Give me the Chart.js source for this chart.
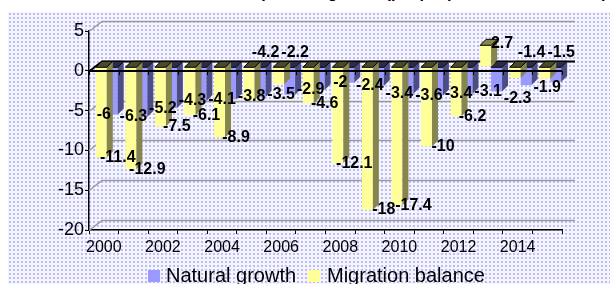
<!DOCTYPE html>
<html>
<head>
<meta charset="utf-8">
<script src="https://cdn.jsdelivr.net/npm/chart.js@4.4.1/dist/chart.umd.min.js"></script>
<style>
html, body { margin: 0; padding: 0; background: #fff; }
#wrap { position: relative; width: 610px; height: 284px; overflow: hidden; font-family: Arial, "Liberation Sans", sans-serif; }
#pattern { position: absolute; left: 8px; top: 12px; right: 0; bottom: 0;
  background-color: #f5f5ff;
  background-image: radial-gradient(circle, #bcbcf2 0.9px, transparent 1.4px);
  background-size: 4px 4px; }
#title { position: absolute; top: -15px; right: 3px; font-weight: bold; font-size: 16px; line-height: 16px; white-space: nowrap; }
canvas { position: absolute; left: 0; top: 0; }
.lg-box { position: absolute; top: 270px; width: 12px; height: 12px; }
.lg-txt { position: absolute; top: 265px; font-size: 20px; line-height: 20px; white-space: nowrap; color: #000; }
</style>
</head>
<body>
<div id="wrap">
  <div id="pattern"></div>
  <div id="title">Population growth (people per 1000 inhabitants)</div>
  <canvas id="chart" width="610" height="284"></canvas>
  <span class="lg-box" style="left:148px;background:#9999ff"></span>
  <span class="lg-txt" style="left:166px">Natural growth</span>
  <span class="lg-box" style="left:308px;background:#ffff99"></span>
  <span class="lg-txt" style="left:327px">Migration balance</span>
</div>
<script>
// Chart data
const years = ['2000', '2001', '2002', '2003', '2004', '2005', '2006', '2007',
               '2008', '2009', '2010', '2011', '2012', '2013', '2014', '2015'];
const naturalGrowth = [-6, -6.3, -5.2, -4.3, -4.1, -3.8, -3.5, -2.9,
                       -2, -2.4, -3.4, -3.6, -3.4, -3.1, -2.3, -1.9];
const migrationBalance = [-11.4, -12.9, -7.5, -6.1, -8.9, -4.2, -2.2, -4.6,
                          -12.1, -18, -17.4, -10, -6.2, 2.7, -1.4, -1.5];
const yTicks = [-20, -15, -10, -5, 0, 5];

// 3D look: depth of the back wall and of the bars
const WALL_DX = 13, WALL_DY = 10;
const BAR_DX = 6, BAR_DY = 6;
const SHIFT_X = 3, SHIFT_Y = -4;

const sideColors = ['#4d4d85', '#85854d'];
const topColors = ['#2a2a4a', '#4a4a28'];

// Excel moved a few labels out of the way
const migLabelsUp = [5, 6, 14, 15];
const natLabelsDown = { 14: 13, 15: 6 };

const walls = {
  id: 'walls',
  beforeDatasetsDraw(chart) {
    const { ctx, chartArea: a, scales: { y } } = chart;
    ctx.save();
    yTicks.forEach(v => {
      const py = Math.round(y.getPixelForValue(v)) + 0.5;
      ctx.strokeStyle = v === 0 ? '#000' : '#9a9a9a';
      ctx.lineWidth = v === 0 ? 2 : 1.5;
      ctx.beginPath();
      ctx.moveTo(a.left, py);
      ctx.lineTo(a.left + WALL_DX, py - WALL_DY);
      ctx.lineTo(a.right + WALL_DX, py - WALL_DY);
      ctx.stroke();
    });
    // bars sit half way into the depth
    ctx.translate(SHIFT_X, SHIFT_Y);
  },
  afterDatasetDraw(chart, args) {
    const ctx = chart.ctx;
    const meta = args.meta;
    const i = args.index;
    meta.data.forEach(bar => {
      const p = bar.getProps(['x', 'y', 'base', 'width'], true);
      const l = p.x - p.width / 2, r = p.x + p.width / 2;
      const top = Math.min(p.y, p.base), bot = Math.max(p.y, p.base);
      // side face
      ctx.fillStyle = sideColors[i];
      ctx.beginPath();
      ctx.moveTo(r, top);
      ctx.lineTo(r + BAR_DX, top - BAR_DY);
      ctx.lineTo(r + BAR_DX, bot - BAR_DY);
      ctx.lineTo(r, bot);
      ctx.closePath();
      ctx.fill();
      // top face
      ctx.fillStyle = p.y < p.base ? sideColors[i] : topColors[i];
      ctx.beginPath();
      ctx.moveTo(l, top);
      ctx.lineTo(l + BAR_DX, top - BAR_DY);
      ctx.lineTo(r + BAR_DX, top - BAR_DY);
      ctx.lineTo(r, top);
      ctx.closePath();
      ctx.fill();
      ctx.strokeStyle = '#000';
      ctx.lineWidth = 1;
      ctx.stroke();
    });
  },
  afterDatasetsDraw(chart) {
    const { ctx, chartArea: a, scales: { x, y } } = chart;
    ctx.restore();
    ctx.save();
    // front zero line with ticks
    const y0 = Math.round(y.getPixelForValue(0));
    ctx.strokeStyle = '#000';
    ctx.lineWidth = 2;
    ctx.beginPath();
    ctx.moveTo(a.left, y0);
    ctx.lineTo(a.right, y0);
    ctx.stroke();
    ctx.lineWidth = 1;
    const step = (a.right - a.left) / years.length;
    for (let k = 0; k <= years.length; k++) {
      const px = Math.round(a.left + k * step) + 0.5;
      ctx.beginPath();
      ctx.moveTo(px, y0);
      ctx.lineTo(px, y0 + 4);
      ctx.stroke();
    }
    // data labels
    ctx.font = 'bold 16px Arial, "Liberation Sans", sans-serif';
    ctx.fillStyle = '#000';
    ctx.textAlign = 'center';
    ctx.textBaseline = 'middle';
    naturalGrowth.forEach((v, k) => {
      const px = x.getPixelForValue(k);
      const py = y.getPixelForValue(v) - 4 + (natLabelsDown[k] || 0);
      ctx.fillText(String(v), px, py);
    });
    migrationBalance.forEach((v, k) => {
      const px = x.getPixelForValue(k) + 14;
      let py = y.getPixelForValue(v) - (v > 0 ? 6 : 4);
      if (migLabelsUp.includes(k)) py = y0 - 18;
      ctx.fillText(String(v), px, py);
    });
    ctx.restore();
  }
};

new Chart(document.getElementById('chart'), {
  type: 'bar',
  data: {
    labels: years,
    datasets: [
      { label: 'Natural growth', data: naturalGrowth, backgroundColor: '#9999ff',
        order: 1, clip: false },
      { label: 'Migration balance', data: migrationBalance, backgroundColor: '#ffff99',
        order: 0, clip: false }
    ]
  },
  options: {
    responsive: false,
    animation: false,
    devicePixelRatio: 1,
    categoryPercentage: 0.74,
    barPercentage: 1,
    layout: { padding: { top: 31, right: 48, left: 0, bottom: 24 } },
    plugins: {
      legend: { display: false },
      tooltip: { enabled: false }
    },
    scales: {
      x: {
        ticks: {
          autoSkip: false, maxRotation: 0, color: '#000', padding: 4,
          font: { size: 16, family: 'Arial, "Liberation Sans", sans-serif' },
          callback: (v, i) => (i % 2 === 0 ? years[i] : '')
        },
        grid: { drawOnChartArea: false, tickLength: 4, color: '#000' },
        border: { color: '#000', width: 1.5 },
        afterFit(s) { s.height = 30; }
      },
      y: {
        min: -20, max: 5,
        afterBuildTicks(s) { s.ticks = yTicks.map(v => ({ value: v })); },
        ticks: {
          color: '#000', padding: 1,
          font: { size: 18, family: 'Arial, "Liberation Sans", sans-serif' }
        },
        grid: { drawOnChartArea: false, tickLength: 4, color: '#000' },
        border: { color: '#000', width: 1.5 },
        afterFit(s) { s.width = 89; }
      }
    }
  },
  plugins: [walls]
});
</script>
</body>
</html>
